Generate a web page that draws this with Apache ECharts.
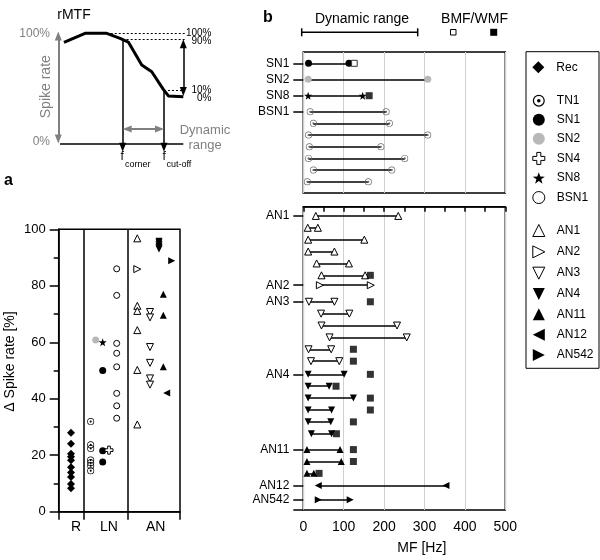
<!DOCTYPE html>
<html><head><meta charset="utf-8">
<script src="https://cdn.jsdelivr.net/npm/echarts@6/dist/echarts.min.js"></script>
<style>html,body{margin:0;padding:0;background:#fff}#c{width:600px;height:560px}</style>
</head><body><div id="c"></div>
<script>
// ================= DATA =================
// rMTF schematic curve (arbitrary modulation frequency units, spike rate %)
const rmtfFreq = [3.2, 20.3, 37.9, 48.7, 55.4, 66.3, 74.4, 83.8, 87.9, 100];
const rmtfRate = [91.9, 100, 100, 95.5, 92.1, 71.3, 65.3, 49.4, 43.4, 42.7];
const fCorner = 50.8, fCutoff = 84.3, rate90 = 94.3, rate10 = 48.4;

// Panel a: Δ spike rate [%] per cell type
const panelACats = ['R', 'LN', 'AN'];
const dRec   = [28, 24.1, 20.5, 19.5, 18.2, 15.7, 13.9, 12.3, 9.8, 8.3];
const dTN1   = [31.9, 23.7, 22.4, 18.3, 17.3, 16.3, 14.5];
const dSN1   = [50, 21.6, 17.6];
const dSN2   = [60.8];
const dSN4   = [21.8];
const dSN8   = [60];
const dBSN1  = [86, 76.6, 59.6, 56.1, 51.3, 41.9, 37.5, 33.1];
const dAN1   = [96.8, 72.9, 71.1, 64.3, 50.2, 30.9];
const dAN2   = [85.9];
const dAN3   = [70.7, 68.8, 58.3, 52.7, 47.2, 45];
const dAN4   = [95.8, 95.2, 94.6, 94.0, 93.5, 93.0];
const dAN11  = [77, 69.6, 51.3];
const dAN12  = [42];
const dAN542 = [88.9];

// Panel b: dynamic range [f_corner, f_cut-off] in Hz, BMF (open) / WMF (filled)
const rSN1   = [[13, 113]];           const bmfSN1 = [126];
const rSN2   = [[12, 308]];
const rSN8   = [[12, 147]];           const wmfSN8 = [163];
const rBSN1  = [[17, 205], [25, 213], [13, 308], [15, 192], [13, 251], [25, 219], [10, 161]];
const rAN1   = [[31, 235], [11, 36], [12, 151], [12, 77], [33, 113], [45, 153]];
const wmfAN1 = [null, null, null, null, null, 166];
const rAN2   = [[41, 167]];
const rAN3   = [[14, 77], [44, 114], [45, 232], [65, 256], [13, 69], [19, 89]];
const wmfAN3 = [166, null, null, null, 124, 124];
const rAN4   = [[12, 101], [12, 64], [12, 124], [12, 70], [12, 68], [20, 70]];
const wmfAN4 = [166, 81, 166, 166, 124, 82];
const rAN11  = [[9, 91], [9, 94], [9, 26]];
const wmfAN11 = [124, 124, 39];
const rAN12  = [[37, 353]];
const rAN542 = [[37, 116]];
const mfTicks = [0, 100, 200, 300, 400, 500];

// ================= LAYOUT / STYLE =================
const FONT = '"Liberation Sans", Arial, Helvetica, sans-serif';
const GRAY = '#808080';
const STAR = 'path://M0,-100L23.5,-32.4L95.1,-30.9L38,12.4L58.8,80.9L0,40L-58.8,80.9L-38,12.4L-95.1,-30.9L-23.5,-32.4Z';
const CROSS = 'path://M-1.2,-3.6L1.2,-3.6L1.2,-1.2L3.6,-1.2L3.6,1.2L1.2,1.2L1.2,3.6L-1.2,3.6L-1.2,1.2L-3.6,1.2L-3.6,-1.2L-1.2,-1.2Z';
const RINGDOT = 'path://M0,-10A10,10 0 1,1 0,10A10,10 0 1,1 0,-10Z M0,-8A8,8 0 1,0 0,8A8,8 0 1,0 0,-8Z M0,-3A3,3 0 1,1 0,3A3,3 0 1,1 0,-3Z';
const TRI_RIGHT = 'path://M0,0L10,5L0,10Z';
const TRI_LEFT = 'path://M10,0L0,5L10,10Z';
const TRI_DOWN = 'path://M0,0L10,0L5,10Z';

const STY = {
  Rec:  {symbol: 'diamond', size: 8, fill: '#000'},
  TN1:  {symbol: RINGDOT, size: 7, fill: '#000'},
  SN1:  {symbol: 'circle', size: 7, fill: '#000'},
  SN2:  {symbol: 'circle', size: 7, fill: '#b8b8b8'},
  SN4:  {symbol: CROSS, size: 8, fill: '#fff', border: '#000'},
  SN8:  {symbol: STAR, size: 8, fill: '#000'},
  BSN1: {symbol: 'circle', size: 6, fill: '#fff', border: '#000'},
  AN1:  {symbol: 'triangle', size: 7, fill: '#fff', border: '#000'},
  AN2:  {symbol: 'triangle', size: 7, fill: '#fff', border: '#000', rot: -90, icon: TRI_RIGHT},
  AN3:  {symbol: 'triangle', size: 7, fill: '#fff', border: '#000', rot: 180, icon: TRI_DOWN},
  AN4:  {symbol: 'triangle', size: 7, fill: '#000', rot: 180, icon: TRI_DOWN},
  AN11: {symbol: 'triangle', size: 7, fill: '#000'},
  AN12: {symbol: 'triangle', size: 7, fill: '#000', rot: 90, icon: TRI_LEFT},
  AN542:{symbol: 'triangle', size: 7, fill: '#000', rot: -90, icon: TRI_RIGHT}
};
const BSTY = Object.assign({}, STY, {BSN1: {symbol: RINGDOT, size: 7, fill: '#6a6a6a'}});

// panel a: horizontal slot (px from y axis) of each cell type inside its column
const slotA = {Rec: 12.3, TN1: 32, SN2: 37, SN1: 44, SN8: 44, SN4: 50.3, BSN1: 58,
  AN1: 78.6, AN2: 78.6, AN3: 91.3, AN4: 100.3, AN11: 104.6, AN12: 108, AN542: 113};
const colBounds = [0, 24.6, 68.6, 121.3];
const colLabelPos = [17.3, 50.3, 97];

const TOP_STARTS = [11.3, 27.3, 43.7, 59.7], TOP_STEP = 11.67, TOP_H = 141;
const BOT_STARTS = [9.3, 79.3, 96, 169.3, 245.3, 281.6, 296], BOT_STEP = 12, BOT_H = 306.3;

function styleOf(st) {
  return {color: st.fill, borderColor: st.border || st.fill, borderWidth: st.border ? 1 : 0, opacity: 1};
}
function scatterA(name, vals) {
  const st = STY[name];
  return {type: 'scatter', name, xAxisIndex: 1, yAxisIndex: 1, z: 4, silent: true,
    symbol: st.symbol, symbolSize: st.size, symbolRotate: st.rot || 0,
    itemStyle: styleOf(st), data: vals.map(v => [slotA[name], v])};
}

const topGroups = [
  {name: 'SN1', ranges: rSN1, bmf: bmfSN1},
  {name: 'SN2', ranges: rSN2},
  {name: 'SN8', ranges: rSN8, wmf: wmfSN8},
  {name: 'BSN1', ranges: rBSN1}
];
const botGroups = [
  {name: 'AN1', ranges: rAN1, wmf: wmfAN1},
  {name: 'AN2', ranges: rAN2},
  {name: 'AN3', ranges: rAN3, wmf: wmfAN3},
  {name: 'AN4', ranges: rAN4, wmf: wmfAN4},
  {name: 'AN11', ranges: rAN11, wmf: wmfAN11},
  {name: 'AN12', ranges: rAN12},
  {name: 'AN542', ranges: rAN542}
];

function bSeries(groups, starts, step, xi, yi) {
  const out = [], bmfPts = [], wmfPts = [];
  groups.forEach((g, gi) => {
    const ys = g.ranges.map((r, i) => starts[gi] + i * step);
    out.push({type: 'lines', coordinateSystem: 'cartesian2d', xAxisIndex: xi, yAxisIndex: yi,
      silent: true, z: 2, lineStyle: {color: '#000', width: 1.5, opacity: 1},
      data: g.ranges.map((r, i) => ({coords: [[r[0], ys[i]], [r[1], ys[i]]]}))});
    const st = BSTY[g.name];
    out.push({type: 'scatter', name: 'b-' + g.name, xAxisIndex: xi, yAxisIndex: yi, silent: true, z: 3,
      symbol: st.symbol, symbolSize: st.size, symbolRotate: st.rot || 0, itemStyle: styleOf(st),
      data: g.ranges.flatMap((r, i) => [[r[0], ys[i]], [r[1], ys[i]]])});
    (g.bmf || []).forEach((v, i) => { if (v != null) bmfPts.push([v, ys[i]]); });
    (g.wmf || []).forEach((v, i) => { if (v != null) wmfPts.push([v, ys[i]]); });
  });
  if (bmfPts.length) out.push({type: 'scatter', xAxisIndex: xi, yAxisIndex: yi, silent: true, z: 4,
    symbol: 'rect', symbolSize: 6, itemStyle: {color: '#fff', borderColor: '#000', borderWidth: 1}, data: bmfPts});
  if (wmfPts.length) out.push({type: 'scatter', xAxisIndex: xi, yAxisIndex: yi, silent: true, z: 4,
    symbol: 'rect', symbolSize: 7, itemStyle: {color: '#000'}, data: wmfPts});
  return out;
}
function rowLabel(starts, groups) {
  return v => { const i = starts.findIndex(s => Math.abs(s - v) < 0.05); return i >= 0 ? groups[i].name : ''; };
}

// rMTF schematic annotations (in schematic axis units)
function ml(coords1, coords2, sym1, sym2) {
  return [{coord: coords1, symbol: sym1}, {coord: coords2, symbol: sym2}];
}
const schematicSeries = [
  {type: 'line', xAxisIndex: 0, yAxisIndex: 0, clip: false, silent: true, showSymbol: false, symbol: 'none',
    lineStyle: {color: '#000', width: 3}, data: rmtfFreq.map((f, i) => [f, rmtfRate[i]]), z: 3},
  {type: 'line', xAxisIndex: 0, yAxisIndex: 0, clip: false, silent: true, data: [],
    markLine: {silent: true, animation: false, label: {show: false}, symbol: 'none',
      lineStyle: {color: '#000', width: 1.2, type: [2, 2]},
      data: [ml([37.9, 100], [101.4, 100], 'none', 'none'), ml([fCorner, rate90], [101.4, rate90], 'none', 'none'),
             ml([fCutoff, rate10], [100, rate10], 'none', 'none')]}},
  {type: 'line', xAxisIndex: 0, yAxisIndex: 0, clip: false, silent: true, data: [],
    markLine: {silent: true, animation: false, label: {show: false}, symbolSize: [7, 9],
      lineStyle: {color: '#000', width: 1.5, type: 'solid'},
      data: [ml([0, 0], [100, 0], 'none', 'none'),
             ml([fCorner, rate90], [fCorner, -2.9], 'none', 'triangle'),
             ml([fCutoff, rate10], [fCutoff, -2.9], 'none', 'triangle'),
             ml([100, 90.5], [100, 47.5], 'triangle', 'triangle')]}},
  {type: 'line', xAxisIndex: 0, yAxisIndex: 0, clip: false, silent: true, data: [],
    markLine: {silent: true, animation: false, label: {show: false}, symbolSize: [7, 9],
      lineStyle: {color: GRAY, width: 2, type: 'solid'},
      data: [ml([-1.4, 4.5], [-1.4, 97.5], 'triangle', 'triangle'),
             ml([54.5, 13.5], [80.7, 13.5], 'triangle', 'triangle')]}}
];

function txt(text, x, y, size, opt) {
  opt = opt || {};
  return {type: 'text', x, y, rotation: opt.rot || 0, silent: true, z: 10,
    style: {text, fill: opt.color || '#000', font: (opt.bold ? 'bold ' : '') + size + 'px ' + FONT,
      textAlign: opt.align || 'left', align: opt.align || 'left', textVerticalAlign: 'middle', verticalAlign: 'middle'}};
}

const graphics = [
  txt('rMTF', 74, 15, 14, {align: 'center'}),
  txt('100%', 50, 33.3, 12, {align: 'right', color: GRAY}),
  txt('0%', 50, 141.7, 12, {align: 'right', color: GRAY}),
  txt('Spike rate', 46.5, 86.7, 14, {align: 'center', color: GRAY, rot: Math.PI / 2}),
  txt('100%', 211.5, 33, 10, {align: 'right'}),
  txt('90%', 211.5, 41.3, 10, {align: 'right'}),
  txt('10%', 211.5, 90.3, 10, {align: 'right'}),
  txt('0%', 211.5, 98, 10, {align: 'right'}),
  txt('Dynamic', 205, 130, 13, {align: 'center', color: GRAY}),
  txt('range', 205, 145.7, 13, {align: 'center', color: GRAY}),
  txt('f', 120.5, 156.5, 12),
  txt('corner', 125, 164.5, 9),
  txt('f', 162.5, 156.5, 12),
  txt('cut-off', 166.5, 164.5, 9),
  txt('a', 4, 181, 16, {bold: true}),
  txt('b', 263, 17.5, 16, {bold: true}),
  txt('Dynamic range', 362, 19, 14, {align: 'center'}),
  txt('BMF/WMF', 474.5, 19, 14, {align: 'center'}),
  {type: 'line', silent: true, shape: {x1: 301.7, y1: 32.3, x2: 417.7, y2: 32.3}, style: {stroke: '#000', lineWidth: 1.5}},
  {type: 'line', silent: true, shape: {x1: 301.7, y1: 28.3, x2: 301.7, y2: 36.3}, style: {stroke: '#000', lineWidth: 1.5}},
  {type: 'line', silent: true, shape: {x1: 417.7, y1: 28.3, x2: 417.7, y2: 36.3}, style: {stroke: '#000', lineWidth: 1.5}},
  {type: 'rect', silent: true, shape: {x: 450.5, y: 29.5, width: 5.5, height: 5.5}, style: {fill: '#fff', stroke: '#000', lineWidth: 1}},
  {type: 'rect', silent: true, shape: {x: 490.2, y: 28.8, width: 7, height: 7}, style: {fill: '#000'}},
  {type: 'rect', silent: true, shape: {x: 526, y: 51.7, width: 73, height: 316.6}, style: {fill: 'none', stroke: '#000', lineWidth: 1}}
];

function legendItem(name) {
  const st = STY[name];
  const it = {name};
  if (st.icon) it.icon = st.icon;
  if (!st.border) it.itemStyle = {borderWidth: 0};
  return it;
}
function legendCfg(names, top, gap) {
  return {orient: 'vertical', left: 532.3, top, padding: 0, itemWidth: 12, itemHeight: 12, itemGap: gap,
    selectedMode: false, data: names.map(legendItem), itemStyle: {borderWidth: 1}, symbolRotate: 0,
    textStyle: {fontSize: 12, color: '#000', fontFamily: FONT, lineHeight: 12, padding: [0, 0, 0, 7]}};
}

const option = {
  animation: false,
  textStyle: {fontFamily: FONT},
  graphic: graphics,
  legend: [
    legendCfg(['Rec'], 61.3, 7),
    legendCfg(['TN1', 'SN1', 'SN2', 'SN4', 'SN8', 'BSN1'], 94.7, 7.07),
    legendCfg(['AN1', 'AN2', 'AN3', 'AN4', 'AN11', 'AN12', 'AN542'], 224, 8.33)
  ],
  grid: [
    // schematic: x -5..105 (1.233 px/unit), y -10..102 (1.107 px/unit)
    {left: 53.84, top: 31.09, width: 135.63, height: 123.98},
    {left: 58.7, top: 229.3, width: 121.3, height: 282.4, show: true, borderColor: '#000', borderWidth: 1.5},
    {left: 303.3, top: 52, width: 202, height: TOP_H, show: true, borderColor: '#000', borderWidth: 1.5},
    {left: 303.3, top: 206.7, width: 202, height: BOT_H, show: true, borderColor: '#000', borderWidth: 1.5}
  ],
  xAxis: [
    {gridIndex: 0, type: 'value', min: -5, max: 105, show: false},
    {gridIndex: 1, type: 'value', min: 0, max: colBounds[3],
      axisLine: {lineStyle: {color: '#000', width: 1.5}},
      axisTick: {customValues: colBounds, length: 8, lineStyle: {color: '#000', width: 1.5}},
      axisLabel: {customValues: colLabelPos, fontSize: 14, color: '#000', margin: 8,
        formatter: v => { const i = colLabelPos.findIndex(p => Math.abs(p - v) < 0.05); return i >= 0 ? panelACats[i] : ''; }},
      splitLine: {show: false}},
    {gridIndex: 2, type: 'value', min: 0, max: 500, interval: 100,
      axisLine: {show: false}, axisTick: {show: false}, axisLabel: {show: false},
      splitLine: {show: true, lineStyle: {color: '#d0d0d0', width: 1}}},
    {gridIndex: 3, type: 'value', min: 0, max: 500, interval: 100,
      axisLine: {lineStyle: {color: '#000', width: 1.5}},
      axisTick: {length: 5, lineStyle: {color: '#000', width: 1.5}},
      minorTick: {show: true, splitNumber: 2, length: 5, lineStyle: {color: '#000', width: 1.5}},
      axisLabel: {fontSize: 14, color: '#000', margin: 10, formatter: v => mfTicks.includes(v) ? String(v) : ''},
      splitLine: {show: true, lineStyle: {color: '#d0d0d0', width: 1}},
      name: 'MF [Hz]', nameLocation: 'middle', nameGap: 31,
      nameTextStyle: {fontSize: 14, color: '#000', padding: [0, 0, 0, 35]}}
  ],
  yAxis: [
    {gridIndex: 0, type: 'value', min: -10, max: 102, show: false},
    {gridIndex: 1, type: 'value', min: 0, max: 100, interval: 20,
      axisLine: {show: true, lineStyle: {color: '#000', width: 1.5}},
      axisTick: {show: true, length: 9, lineStyle: {color: '#000', width: 1.5}},
      minorTick: {show: true, splitNumber: 2, length: 5, lineStyle: {color: '#000', width: 1.5}},
      axisLabel: {fontSize: 13, color: '#000', margin: 13},
      splitLine: {show: false},
      name: 'Δ Spike rate [%]', nameLocation: 'middle', nameGap: 42, nameRotate: 90,
      nameTextStyle: {fontSize: 14, color: '#000', padding: [0, 0, 0, 18]}},
    {gridIndex: 2, type: 'value', inverse: true, min: 0, max: TOP_H,
      axisLine: {show: false},
      axisTick: {show: true, customValues: TOP_STARTS, length: 10, lineStyle: {color: '#000', width: 1.5}},
      axisLabel: {customValues: TOP_STARTS, fontSize: 12, color: '#000', margin: 14, formatter: rowLabel(TOP_STARTS, topGroups)},
      splitLine: {show: false}},
    {gridIndex: 3, type: 'value', inverse: true, min: 0, max: BOT_H,
      axisLine: {show: false},
      axisTick: {show: true, customValues: BOT_STARTS.concat([BOT_H]), length: 10, lineStyle: {color: '#000', width: 1.5}},
      axisLabel: {customValues: BOT_STARTS, fontSize: 12, color: '#000', margin: 14, formatter: rowLabel(BOT_STARTS, botGroups)},
      splitLine: {show: false}}
  ],
  series: [].concat(
    schematicSeries,
    [Object.assign(scatterA('Rec', dRec), {markLine: {silent: true, symbol: 'none', label: {show: false}, animation: false,
        lineStyle: {color: '#000', width: 1.5, type: 'solid'}, data: [{xAxis: colBounds[1]}, {xAxis: colBounds[2]}]}}),
     scatterA('TN1', dTN1), scatterA('SN1', dSN1), scatterA('SN2', dSN2), scatterA('SN4', dSN4),
     scatterA('SN8', dSN8), scatterA('BSN1', dBSN1), scatterA('AN1', dAN1), scatterA('AN2', dAN2),
     scatterA('AN3', dAN3), scatterA('AN4', dAN4), scatterA('AN11', dAN11), scatterA('AN12', dAN12),
     scatterA('AN542', dAN542)],
    bSeries(topGroups, TOP_STARTS, TOP_STEP, 2, 2),
    bSeries(botGroups, BOT_STARTS, BOT_STEP, 3, 3)
  )
};
const chart = echarts.init(document.getElementById('c'), null, {renderer: 'canvas'});
chart.setOption(option);
</script></body></html>
